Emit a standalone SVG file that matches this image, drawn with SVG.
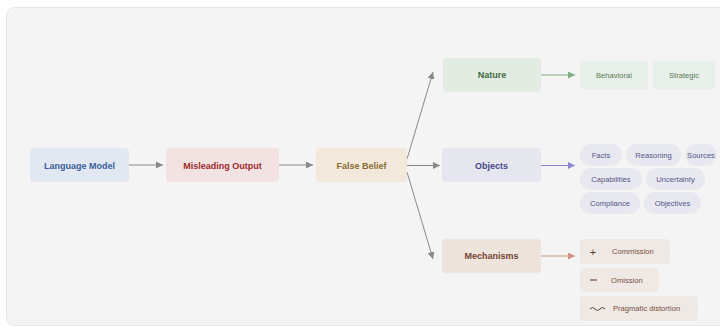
<svg xmlns="http://www.w3.org/2000/svg" width="720" height="327" viewBox="0 0 720 327">
<defs>
<style>
.t{font-family:"Liberation Sans",Arial,sans-serif;text-anchor:middle;dominant-baseline:central}
.h{font-size:9px;font-weight:bold}
.s{font-size:7.6px}
.ln{fill:none;stroke-width:1}
</style>
<marker id="ag" viewBox="0 0 10 10" refX="10" refY="5" markerWidth="7" markerHeight="7" orient="auto" markerUnits="userSpaceOnUse"><path d="M0,0L10,5L0,10z" fill="#888"/></marker>
<marker id="agr" viewBox="0 0 10 10" refX="10" refY="5" markerWidth="7" markerHeight="7" orient="auto" markerUnits="userSpaceOnUse"><path d="M0,0L10,5L0,10z" fill="#7fae80"/></marker>
<marker id="apu" viewBox="0 0 10 10" refX="10" refY="5" markerWidth="7" markerHeight="7" orient="auto" markerUnits="userSpaceOnUse"><path d="M0,0L10,5L0,10z" fill="#8a86cf"/></marker>
<marker id="abr" viewBox="0 0 10 10" refX="10" refY="5" markerWidth="7" markerHeight="7" orient="auto" markerUnits="userSpaceOnUse"><path d="M0,0L10,5L0,10z" fill="#d2927c"/></marker>
</defs>
<rect x="6.5" y="7.5" width="730" height="318" rx="8" fill="#f4f4f4" stroke="#e6e6e6"/>
<g id="connectors">
<line class="ln" x1="129" y1="165" x2="163" y2="165" stroke="#888" marker-end="url(#ag)"/>
<line class="ln" x1="279" y1="165" x2="313" y2="165" stroke="#888" marker-end="url(#ag)"/>
<line class="ln" x1="407" y1="159" x2="433" y2="72" stroke="#888" marker-end="url(#ag)"/>
<line class="ln" x1="407" y1="165.5" x2="440" y2="165.5" stroke="#888" marker-end="url(#ag)"/>
<line class="ln" x1="407" y1="172" x2="433" y2="259" stroke="#888" marker-end="url(#ag)"/>
<line class="ln" x1="541" y1="75" x2="575" y2="75" stroke="#7fae80" marker-end="url(#agr)"/>
<line class="ln" x1="541" y1="165.5" x2="575" y2="165.5" stroke="#8a86cf" marker-end="url(#apu)"/>
<line class="ln" x1="541" y1="256" x2="575" y2="256" stroke="#d2927c" marker-end="url(#abr)"/>
</g>
<g id="language-model"><rect x="30" y="148" width="99" height="34" rx="4" fill="#e1e8f1"/><text class="t h" x="79.5" y="165.5" fill="#3a5f9c">Language Model</text></g>
<g id="misleading-output"><rect x="166" y="148" width="113" height="34" rx="4" fill="#f2e2e2"/><text class="t h" x="222.5" y="165.5" fill="#9c2b2b">Misleading Output</text></g>
<g id="false-belief"><rect x="316" y="148" width="91" height="34" rx="4" fill="#f2e9dc"/><text class="t h" x="361.5" y="165.5" fill="#8a6a30">False Belief</text></g>
<g id="nature"><rect x="443" y="58" width="98" height="34" rx="4" fill="#e3ece3"/><text class="t h" x="492" y="75" fill="#3d6b3e">Nature</text></g>
<g id="objects"><rect x="442" y="148" width="99" height="34" rx="4" fill="#e6e6ef"/><text class="t h" x="491.5" y="165.5" fill="#47478a">Objects</text></g>
<g id="mechanisms"><rect x="442" y="239" width="99" height="34" rx="4" fill="#efe3de"/><text class="t h" x="491.5" y="256" fill="#73432f">Mechanisms</text></g>
<g id="behavioral"><rect x="580" y="61" width="68" height="28" rx="4" fill="#e8eee8"/><text class="t s" x="614" y="75" fill="#5b7a5b">Behavioral</text></g>
<g id="strategic"><rect x="653" y="61" width="62" height="28" rx="4" fill="#e8eee8"/><text class="t s" x="684" y="75" fill="#5b7a5b">Strategic</text></g>
<g id="facts"><rect x="580" y="144" width="42" height="22" rx="11" fill="#e8e8f0"/><text class="t s" x="601" y="155" fill="#55558a">Facts</text></g>
<g id="reasoning"><rect x="626" y="144" width="55" height="22" rx="11" fill="#e8e8f0"/><text class="t s" x="653.5" y="155" fill="#55558a">Reasoning</text></g>
<g id="sources"><rect x="685" y="144" width="32" height="22" rx="11" fill="#e8e8f0"/><text class="t s" x="701" y="155" fill="#55558a">Sources</text></g>
<g id="capabilities"><rect x="580" y="168" width="62" height="22" rx="11" fill="#e8e8f0"/><text class="t s" x="611" y="179" fill="#55558a">Capabilities</text></g>
<g id="uncertainty"><rect x="646" y="168" width="59" height="22" rx="11" fill="#e8e8f0"/><text class="t s" x="675.5" y="179" fill="#55558a">Uncertainty</text></g>
<g id="compliance"><rect x="580" y="192" width="60" height="22" rx="11" fill="#e8e8f0"/><text class="t s" x="610" y="203" fill="#55558a">Compliance</text></g>
<g id="objectives"><rect x="644" y="192" width="57" height="22" rx="11" fill="#e8e8f0"/><text class="t s" x="672.5" y="203" fill="#55558a">Objectives</text></g>
<g id="commission"><rect x="580" y="239" width="90" height="25" rx="4" fill="#efe9e6"/><text class="t" x="593" y="251.5" font-size="11" fill="#5a3a30">+</text><text class="t s" x="612" y="251.5" style="text-anchor:start" fill="#7a4e3e">Commission</text></g>
<g id="omission"><rect x="580" y="268" width="79" height="24" rx="4" fill="#efe9e6"/><line x1="590" y1="280" x2="597" y2="280" stroke="#7a4e3e" stroke-width="1.2"/><text class="t s" x="611" y="280" style="text-anchor:start" fill="#7a4e3e">Omission</text></g>
<g id="pragmatic-distortion"><rect x="580" y="296" width="118" height="25" rx="4" fill="#efe9e6"/><path d="M590,309q2.5,-3 5,0t5,0t5,0" fill="none" stroke="#5a3a30" stroke-width="1"/><text class="t s" x="613" y="308.5" style="text-anchor:start" fill="#7a4e3e">Pragmatic distortion</text></g>
</svg>
